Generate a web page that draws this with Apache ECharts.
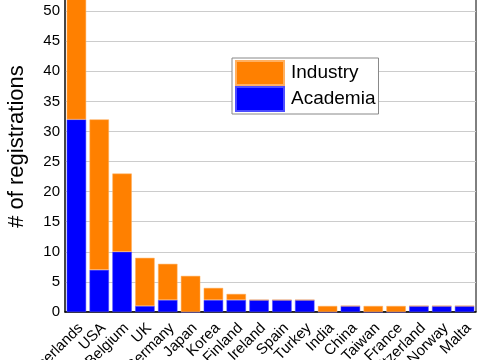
<!DOCTYPE html>
<html><head><meta charset="utf-8">
<script src="https://cdn.jsdelivr.net/npm/echarts@6/dist/echarts.min.js"></script>
<style>html,body{margin:0;padding:0;background:#fff}#c{width:480px;height:360px}</style>
</head><body><div id="c"></div>
<script>
const categories = ['Netherlands','USA','Belgium','UK','Germany','Japan','Korea','Finland','Ireland','Spain','Turkey','India','China','Taiwan','France','Switzerland','Norway','Malta'];
const academia = [32,7,10,1,2,0,2,2,2,2,2,0,1,0,0,1,1,1];
const industry = [21,25,13,8,6,6,2,1,0,0,0,1,0,1,1,0,0,0];
const yTicks = {min:0, max:55, interval:5};

const chart = echarts.init(document.getElementById('c'));
const font = 'Liberation Sans, Arial, sans-serif';
chart.setOption({
  animation:false,
  grid:{left:65, right:4, top:-19, bottom:48, show:true, borderColor:'#000', borderWidth:1, containLabel:false, outerBoundsMode:'none'},
  legend:{
    data:['Industry','Academia'], orient:'vertical', left:232, top:58,
    itemWidth:48, itemHeight:24, itemGap:0, padding:[2,3,2,3],
    borderColor:'#888', borderWidth:1, backgroundColor:'#fff',
    textStyle:{fontFamily:font, fontSize:19, color:'#000', padding:[0,0,0,2]},
    icon:'rect'
  },
  xAxis:{
    type:'category', data:categories,
    axisLine:{lineStyle:{color:'#000',width:1.5}},
    axisTick:{show:false},
    axisLabel:{rotate:45, interval:0, fontFamily:font, fontSize:15, color:'#000', margin:18, padding:[0,-6,0,0]}
  },
  yAxis:{
    type:'value', min:yTicks.min, max:yTicks.max, interval:yTicks.interval,
    name:'# of registrations', nameLocation:'middle', nameGap:37,
    nameTextStyle:{fontFamily:font, fontSize:22, color:'#000'},
    axisLine:{show:true, lineStyle:{color:'#333',width:1.5}},
    axisTick:{show:false},
    axisLabel:{fontFamily:font, fontSize:15, color:'#000', margin:5},
    splitLine:{lineStyle:{color:'#ccc'}}
  },
  series:[
    {name:'Academia', type:'bar', stack:'s', data:academia, barCategoryGap:'15%',
     itemStyle:{color:'#0000ff', borderColor:'#4d4dff', borderWidth:0.5}},
    {name:'Industry', type:'bar', stack:'s', data:industry, barCategoryGap:'15%',
     itemStyle:{color:'#ff8000', borderColor:'#ffb060', borderWidth:0.5}}
  ]
});
</script></body></html>
